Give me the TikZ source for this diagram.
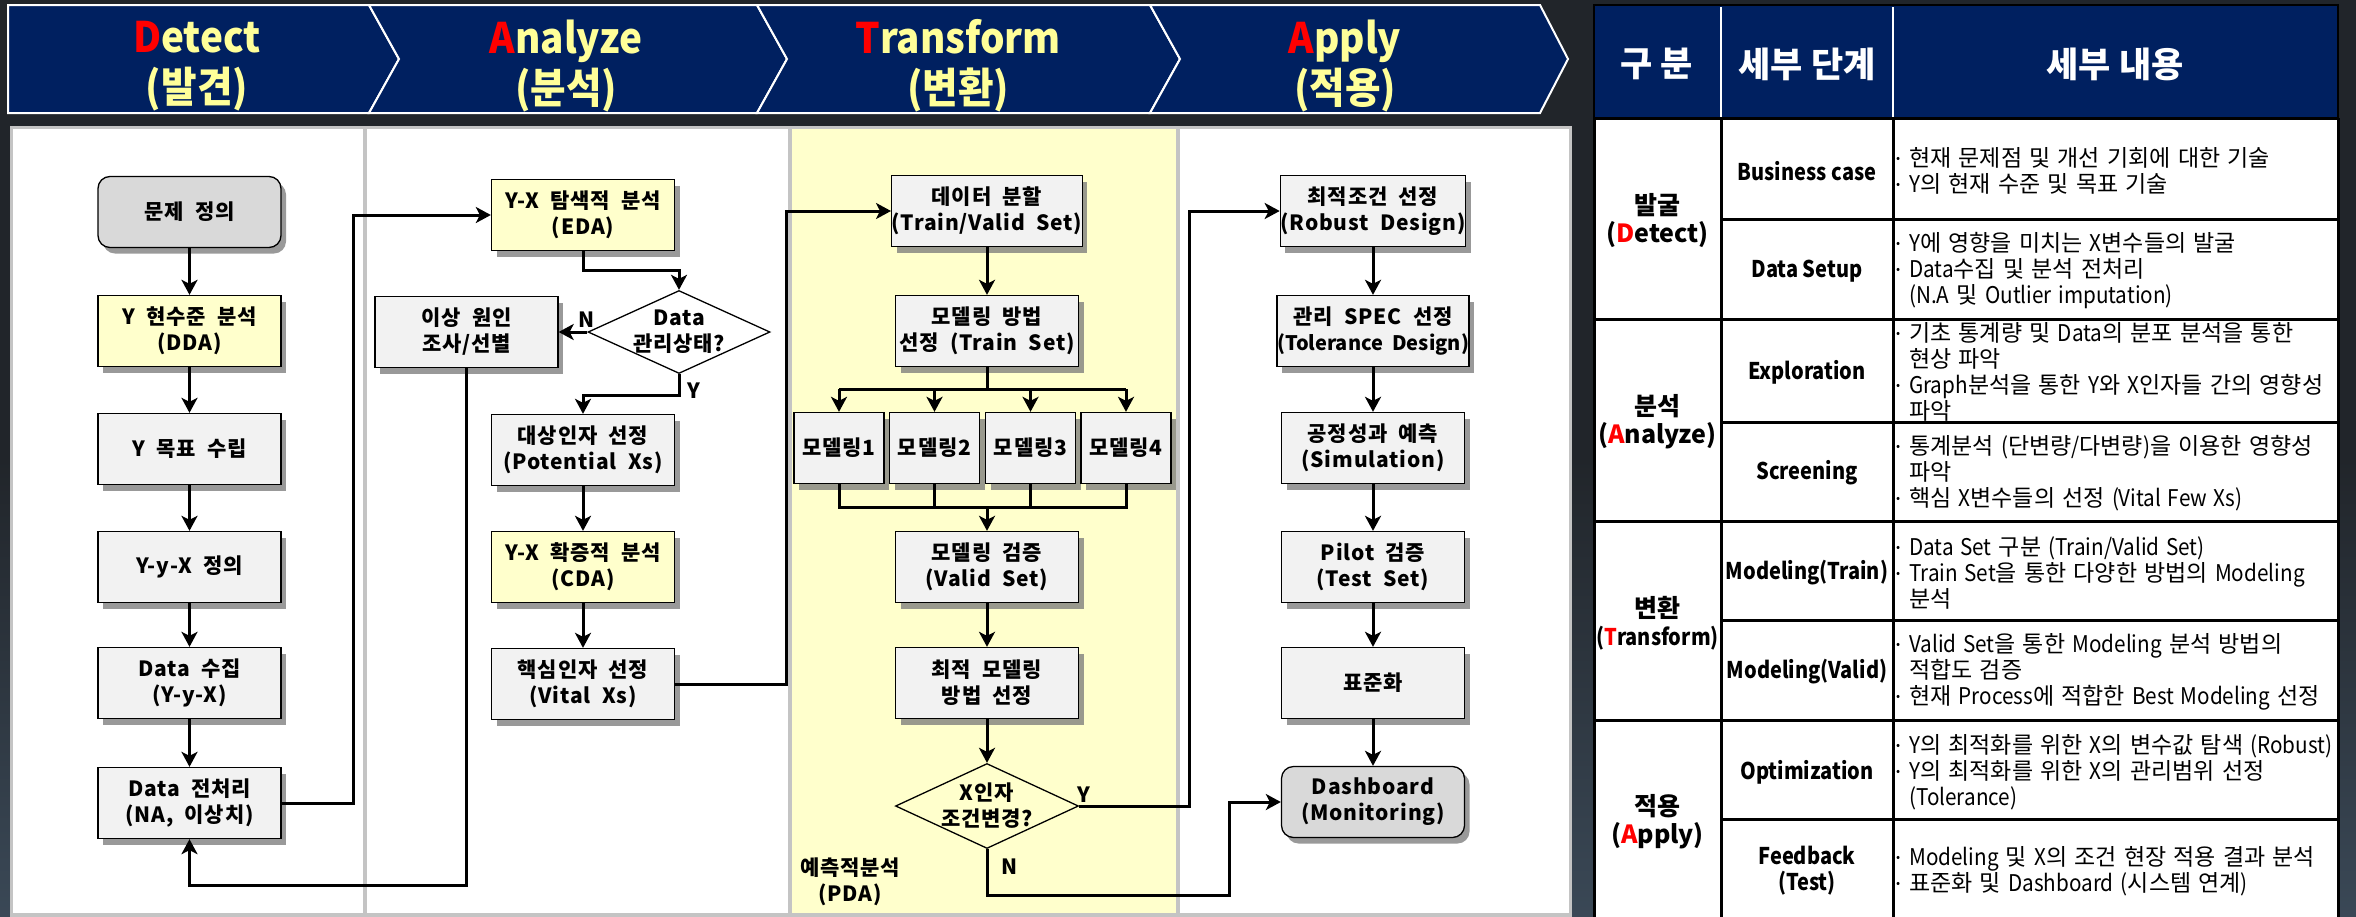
\documentclass[tikz,border=0pt]{standalone}
\usepackage{fontspec}
\setmainfont{Noto Sans CJK KR}
\newfontfamily\flowfont[LetterSpace=4,WordSpace=2]{Noto Sans CJK KR}
\newfontfamily\tabfont[WordSpace=1.4]{Noto Sans CJK KR}
\newfontfamily\tabnarrow[FakeStretch=0.9,WordSpace=1.4]{Noto Sans CJK KR}
\newfontfamily\stepfont[FakeStretch=0.87]{Noto Sans CJK KR}
\newfontfamily\headfont[FakeStretch=0.92]{Noto Sans CJK KR}
\usetikzlibrary{arrows.meta,shapes.geometric,shadows,calc}
\definecolor{bgdark}{RGB}{33,37,42}
\definecolor{slate}{RGB}{58,72,86}
\definecolor{navy}{RGB}{0,32,96}
\definecolor{hyellow}{RGB}{255,255,153}
\definecolor{pgray}{RGB}{196,196,196}
\definecolor{pyellow}{RGB}{255,255,204}
\definecolor{bgray}{RGB}{242,242,242}
\definecolor{rgray}{RGB}{217,217,217}
\definecolor{shgray}{RGB}{120,120,120}
\newcommand\tbul{\makebox[13pt][l]{\fontsize{12}{12}\selectfont\raisebox{4pt}{•}}}
\newcommand\tind{\hspace*{13pt}}
\newcommand\latn[1]{{\tabnarrow #1}}
\begin{document}
\begin{tikzpicture}[x=1pt,y=-1pt,
  fbox/.style={draw=black,line width=1.3pt,fill=bgray,minimum width=183pt,minimum height=71pt,inner sep=0pt,align=center,
     font=\flowfont\bfseries\fontsize{21}{26}\selectfont,
     drop shadow={shadow xshift=5pt,shadow yshift=-6pt,fill=shgray,opacity=0.75}},
  ybox/.style={fbox,fill=pyellow},
  rbox/.style={fbox,fill=rgray,rounded corners=12pt},
  mbox/.style={fbox,minimum width=90pt},
  dia/.style={diamond,draw=black,line width=1.3pt,inner sep=0pt,minimum width=182pt,minimum height=83pt},
  dtext/.style={inner sep=0pt,align=center,font=\flowfont\bfseries\fontsize{21}{26}\selectfont},
  lbl/.style={inner sep=0pt,align=center,font=\flowfont\bfseries\fontsize{21}{26}\selectfont},
  conn/.style={draw=black,line width=3pt},
  arr/.style={conn,-{Stealth[length=15pt,width=16pt,inset=4pt]}},
  chev/.style={fill=navy,draw=white,line width=2pt,line join=miter},
  chevtext/.style={inner sep=0pt,align=center,text=hyellow,font=\headfont\bfseries\fontsize{42}{50}\selectfont},
  thead/.style={inner sep=0pt,align=center,text=white,font=\bfseries\fontsize{35}{38}\selectfont},
  tgroup/.style={inner sep=0pt,align=center,font=\tabfont\bfseries\fontsize{25}{28}\selectfont},
  tstep/.style={inner sep=0pt,align=center,font=\stepfont\bfseries\fontsize{23}{26}\selectfont},
  tdet/.style={inner sep=0pt,align=left,anchor=west,font=\tabfont\fontsize{23}{26}\selectfont},
  tline/.style={draw=black,line width=3pt}
]
\useasboundingbox (0,0) rectangle (2356,916);
\clip (0,0) rectangle (2356,916);
% background
\shade[top color=bgdark,bottom color=slate,middle color=bgdark] (0,0) rectangle (2356,916);

% header chevrons
\path[chev] (8,5) -- (369,5) -- (399,59) -- (369,113) -- (8,113) -- cycle;
\path[chev] (369,5) -- (757,5) -- (787,59) -- (757,113) -- (369,113) -- (399,59) -- cycle;
\path[chev] (757,5) -- (1150,5) -- (1180,59) -- (1150,113) -- (757,113) -- (787,59) -- cycle;
\path[chev] (1150,5) -- (1540,5) -- (1568,59) -- (1540,113) -- (1150,113) -- (1180,59) -- cycle;
\node[chevtext] (hD) at (197,66) {{\color{red}D}etect\\(발견)};
\node[chevtext] (hA) at (566,66) {{\color{red}A}nalyze\\(분석)};
\node[chevtext] (hT) at (958,66) {{\color{red}T}ransform\\(변환)};
\node[chevtext] (hP) at (1345,66) {{\color{red}A}pply\\(적용)};

% panels
\fill[pgray] (10,126) rectangle (1572,920);
\fill[white] (13,129) rectangle (363,913);
\fill[white] (367,129) rectangle (788,913);
\fill[pyellow] (792,129) rectangle (1176,913);
\fill[white] (1180,129) rectangle (1569,913);

% column 1
\node[rbox] (def) at (189.5,212) {문제 정의};
\node[ybox] (dda) at (189.5,331) {Y 현수준 분석\\(DDA)};
\node[fbox] (goal) at (189.5,449) {Y 목표 수립};
\node[fbox] (yyx) at (189.5,567) {Y-y-X 정의};
\node[fbox] (coll) at (189.5,683) {Data 수집\\(Y-y-X)};
\node[fbox] (prep) at (189.5,803) {Data 전처리\\(NA, 이상치)};

% column 2
\node[ybox] (eda) at (583,215) {Y-X 탐색적 분석\\(EDA)};
\node[fbox] (cause) at (466.5,332) {이상 원인\\조사/선별};
\node[dia] (dq) at (679,332) {};
\node[dtext] (dqt) at (679,332) {Data\\관리상태?};
\node[lbl] (dqN) at (587,320) {N};
\node[lbl] (dqY) at (694,391) {Y};
\node[fbox] (pot) at (583,450) {대상인자 선정\\(Potential Xs)};
\node[ybox] (cda) at (583,567) {Y-X 확증적 분석\\(CDA)};
\node[fbox] (vital) at (583,684) {핵심인자 선정\\(Vital Xs)};

% column 3
\node[fbox] (split) at (987,211) {데이터 분할\\(Train/Valid Set)};
\node[fbox] (method) at (987,331) {모델링 방법\\선정 (Train Set)};
\node[mbox] (m1) at (839,448) {모델링1};
\node[mbox] (m2) at (934.5,448) {모델링2};
\node[mbox] (m3) at (1030.5,448) {모델링3};
\node[mbox] (m4) at (1126,448) {모델링4};
\node[fbox] (valid) at (987,567) {모델링 검증\\(Valid Set)};
\node[fbox] (best) at (987,683) {최적 모델링\\방법 선정};
\node[dia,minimum width=183pt,minimum height=85pt] (xq) at (987,806) {};
\node[dtext] (xqt) at (987,806) {X인자\\조건변경?};
\node[lbl] (xqY) at (1084,795) {Y};
\node[lbl] (xqN) at (1010,867) {N};
\node[lbl] (pda) at (850,882) {예측적분석\\(PDA)};

% column 4
\node[fbox] (robust) at (1373,211) {최적조건 선정\\(Robust Design)};
\node[fbox] (tol) at (1373,331) {관리 SPEC 선정\\{\addfontfeatures{LetterSpace=0}\fontsize{20}{26}\selectfont(Tolerance Design)}};
\node[fbox] (sim) at (1373,448) {공정성과 예측\\(Simulation)};
\node[fbox] (pilot) at (1373,567) {Pilot 검증\\(Test Set)};
\node[fbox] (std) at (1373,683) {표준화};
\node[rbox] (dash) at (1373,802) {Dashboard\\(Monitoring)};

% connectors
\draw[arr] (def) -- (dda);
\draw[arr] (dda) -- (goal);
\draw[arr] (goal) -- (yyx);
\draw[arr] (yyx) -- (coll);
\draw[arr] (coll) -- (prep);
\draw[arr] (prep.east) -- ++(72,0) |- (eda.west);
\draw[arr] (eda.south) -- ++(0,19) -| (dq.north);
\draw[arr] (dq.west) -- (cause.east);
\draw[arr] (dq.south) -- ++(0,21) -| (pot.north);
\draw[arr] (cause.south) -- ++(0,517) -| (prep.south);
\draw[arr] (pot) -- (cda);
\draw[arr] (cda) -- (vital);
\draw[arr] (vital.east) -- ++(111,0) |- (split.west);
\draw[arr] (split) -- (method);
\draw[conn] (method.south) -- ++(0,22) coordinate (bus1);
\draw[conn] (m1.north |- bus1) -- (m4.north |- bus1);
\foreach \m in {m1,m2,m3,m4} \draw[arr] (\m.north |- bus1) -- (\m.north);
\draw[conn] (m1.south) -- ++(0,23) coordinate (bus2) -- (m4.south |- bus2) -- (m4.south);
\draw[conn] (m2.south) -- (m2.south |- bus2);
\draw[conn] (m3.south) -- (m3.south |- bus2);
\draw[arr] (valid.north |- bus2) -- (valid.north);
\draw[arr] (valid) -- (best);
\draw[arr] (best) -- (xq);
\draw[arr] (xq.east) -- ++(110,0) |- (robust.west);
\draw[arr] (xq.south) -- ++(0,46) -| ([xshift=-51pt]dash.west) -- (dash.west);
\draw[arr] (robust) -- (tol);
\draw[arr] (tol) -- (sim);
\draw[arr] (sim) -- (pilot);
\draw[arr] (pilot) -- (std);
\draw[arr] (std) -- (dash);

% table
\fill[navy] (1594,5) rectangle (2338,118);
\draw[black,line width=1.5pt] (1594,5) rectangle (2338,118);
\draw[white,line width=2pt] (1721,7) -- (1721,117) (1893,7) -- (1893,117);
\fill[white] (1594,118) rectangle (2338,920);
\draw[tline] (1594,118) -- (2338,118);
\draw[tline] (1594,118) -- (1594,920) (1721,118) -- (1721,920) (1893,118) -- (1893,920) (2338,118) -- (2338,920);
\draw[tline] (1594,319) -- (2338,319) (1594,521) -- (2338,521) (1594,720) -- (2338,720);
\draw[tline] (1721,219) -- (2338,219) (1721,422) -- (2338,422) (1721,620) -- (2338,620) (1721,819) -- (2338,819);

\node[thead] (th1) at (1657,64) {구 분};
\node[thead] (th2) at (1807,64) {세부 단계};
\node[thead] (th3) at (2115,64) {세부 내용};

\node[tgroup] (g1) at (1657.5,221) {발굴\\({\color{red}D}etect)};
\node[tgroup] (g2) at (1657.5,422) {분석\\({\color{red}A}nalyze)};
\node[tgroup] (g3) at (1657.5,623) {변환\\{\stepfont\fontsize{23}{28}\selectfont({\color{red}T}ransform)}};
\node[tgroup] (g4) at (1657.5,822) {적용\\({\color{red}A}pply)};

\node[tstep] (s1) at (1807,171) {Business case};
\node[tstep] (s2) at (1807,271) {Data Setup};
\node[tstep] (s3) at (1807,372) {Exploration};
\node[tstep] (s4) at (1807,473) {Screening};
\node[tstep] (s5) at (1807,573) {Modeling(Train)};
\node[tstep] (s6) at (1807,672) {Modeling(Valid)};
\node[tstep] (s7) at (1807,772) {Optimization};
\node[tstep] (s8) at (1807,871) {Feedback\\(Test)};

\node[tdet] (d1) at (1896,171) {\tbul 현재 문제점 및 개선 기회에 대한 기술\\\tbul \latn{Y}의 현재 수준 및 목표 기술};
\node[tdet] (d2) at (1896,271) {\tbul \latn{Y}에 영향을 미치는 \latn{X}변수들의 발굴\\\tbul \latn{Data}수집 및 분석 전처리\\\tind \latn{(N.A} 및 \latn{Outlier imputation)}};
\node[tdet] (d3) at (1896,372) {\tbul 기초 통계량 및 \latn{Data}의 분포 분석을 통한\\\tind 현상 파악\\\tbul \latn{Graph}분석을 통한 \latn{Y}와 \latn{X}인자들 간의 영향성\\\tind 파악};
\node[tdet] (d4) at (1896,473) {\tbul 통계분석 \latn{(}단변량\latn{/}다변량\latn{)}을 이용한 영향성\\\tind 파악\\\tbul 핵심 \latn{X}변수들의 선정 \latn{(Vital Few Xs)}};
\node[tdet] (d5) at (1896,573) {\tbul \latn{Data Set} 구분 \latn{(Train/Valid Set)}\\\tbul \latn{Train Set}을 통한 다양한 방법의 \latn{Modeling}\\\tind 분석};
\node[tdet] (d6) at (1896,672) {\tbul \latn{Valid Set}을 통한 \latn{Modeling} 분석 방법의\\\tind 적합도 검증\\\tbul 현재 \latn{Process}에 적합한 \latn{Best Modeling} 선정};
\node[tdet] (d7) at (1896,772) {\tbul \latn{Y}의 최적화를 위한 \latn{X}의 변수값 탐색 \latn{(Robust)}\\\tbul \latn{Y}의 최적화를 위한 \latn{X}의 관리범위 선정\\\tind \latn{(Tolerance)}};
\node[tdet] (d8) at (1896,871) {\tbul \latn{Modeling} 및 \latn{X}의 조건 현장 적용 결과 분석\\\tbul 표준화 및 \latn{Dashboard} \latn{(}시스템 연계\latn{)}};
\end{tikzpicture}
\end{document}
